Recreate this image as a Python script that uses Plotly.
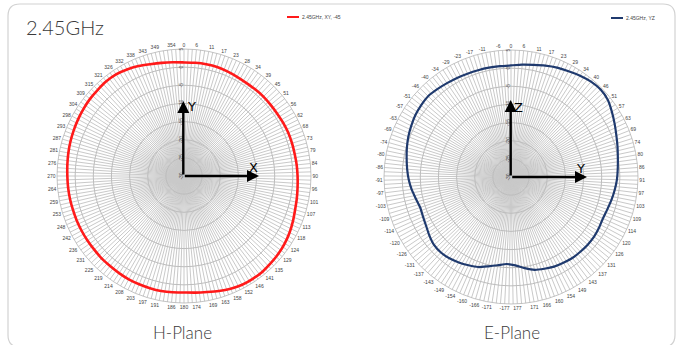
import plotly.graph_objects as go

# ---------------- data ----------------
H_LABELS = ["0","6","11","17","23","28","34","39","45","51","56","62","68","73","79","84",
            "90","96","101","107","113","118","124","129","135","141","146","152","158","163","169","174",
            "180","186","191","197","203","208","214","219","225","231","236","242","248","253","259","264",
            "270","276","281","287","293","298","304","309","315","321","326","332","338","343","349","354"]
H_VALUES = [1.3, 1.35, 1.4, 1.4, 1.2, 1.0, 0.85, 0.9, 0.95, 0.9, 0.9, 1.0, 1.1, 1.1, 1.1, 1.2,
            1.3, 1.45, 1.7, 2.0, 2.5, 3.0, 3.4, 3.7, 3.9, 4.1, 4.1, 4.0, 3.6, 3.1, 2.6, 2.3,
            2.1, 2.2, 2.3, 2.3, 2.3, 2.3, 2.2, 2.1, 2.1, 2.0, 2.0, 2.0, 2.0, 2.0, 2.05, 2.1,
            2.15, 2.3, 2.5, 2.7, 2.9, 3.1, 3.3, 3.5, 3.6, 3.75, 3.7, 3.3, 2.8, 2.2, 1.8, 1.5]

E_LABELS = ["0","6","11","17","23","29","34","40","46","51","57","63","69","74","80","86",
            "91","97","103","109","114","120","126","131","137","143","149","154","160","166","171","177",
            "-177","-171","-166","-160","-154","-149","-143","-137","-131","-126","-120","-114","-109","-103","-97",
            "-91","-86","-80","-74","-69","-63","-57","-51","-46","-40","-34","-29","-23","-17","-11","-6"]
E_VALUES = [0.75, 1.1, 1.5, 2.1, 2.7, 3.2, 3.8, 4.3, 4.5, 4.1, 3.1, 2.1, 1.2, 0.5, -0.1, -0.5,
            -0.8, -1.2, -1.6, -2.0, -2.2, -2.0, -1.8, -1.8, -1.9, -2.0, -2.3, -2.6, -3.1, -3.6, -4.6, -5.6,
            -6.0, -5.4, -4.6, -3.6, -3.0, -2.4, -1.9, -1.6, -1.7, -2.3, -3.0, -3.4, -3.6, -3.1, -2.4,
            -1.8, -1.3, -0.8, -0.2, 0.4, 0.9, 1.4, 1.7, 1.9, 1.6, 1.3, 1.1, 0.9, 0.8, 0.75, 0.7]

R_TICKS = [-30, -25, -20, -15, -10, -5, 0, 5]
H_NAME = "2.45GHz, XY, -45"
E_NAME = "2.45GHz, YZ"

W, H = 677, 345
SUB = 3  # spokes per labelled category


def px(x):
    return x / W


def py(y):
    return 1 - y / H


def cat_theta(n):
    return [i * 360.0 / n for i in range(n)]


def spokes(labels):
    n = len(labels)
    vals, txt = [], []
    for j in range(n * SUB):
        vals.append(j * 360.0 / (n * SUB))
        txt.append(labels[j // SUB] if j % SUB == 0 else "")
    return vals, txt


fig = go.Figure()

h_th = cat_theta(len(H_VALUES))
e_th = cat_theta(len(E_VALUES))
fig.add_trace(go.Scatterpolar(r=H_VALUES + H_VALUES[:1], theta=h_th + h_th[:1], mode="lines",
                              line=dict(color="#ff1a1a", width=2.6, shape="spline", smoothing=0.6),
                              name=H_NAME, subplot="polar", showlegend=False))
fig.add_trace(go.Scatterpolar(r=E_VALUES + E_VALUES[:1], theta=e_th + e_th[:1], mode="lines",
                              line=dict(color="#1f3a6e", width=2.2, shape="spline", smoothing=0.6),
                              name=E_NAME, subplot="polar2", showlegend=False))

GRID = "#c9c9c9"
TICKF = dict(family="Liberation Sans", size=5, color="#444")


def polar_layout(labels, cx, cy, rad):
    tv, tt = spokes(labels)
    return dict(
        domain=dict(x=[px(cx - rad), px(cx + rad)], y=[py(cy + rad), py(cy - rad)]),
        bgcolor="white",
        angularaxis=dict(rotation=90, direction="clockwise", tickmode="array", tickvals=tv, ticktext=tt,
                         ticks="", showline=True, linecolor="#b5b5b5", linewidth=0.8,
                         gridcolor=GRID, gridwidth=0.6, tickfont=TICKF, thetaunit="degrees"),
        radialaxis=dict(range=[-30, 5], tickmode="array", tickvals=R_TICKS,
                        ticktext=[str(v) for v in R_TICKS], angle=90, tickangle=0,
                        side="counterclockwise", ticks="", showline=False,
                        gridcolor="#bdbdbd", gridwidth=0.7, tickfont=TICKF),
    )


fig.update_layout(
    width=W, height=H, margin=dict(l=0, r=0, t=0, b=0),
    paper_bgcolor="white", plot_bgcolor="white",
    polar=polar_layout(H_LABELS, 184, 176, 127),
    polar2=polar_layout(E_LABELS, 511, 177, 127),
    showlegend=False,
)

# card border (rounded)
rx, ry = 12 / W, 12 / H
x0, x1, y0, y1 = px(8), px(675), py(347), py(4)
path = (f"M {x0+rx},{y1} L {x1-rx},{y1} Q {x1},{y1} {x1},{y1-ry} L {x1},{y0+ry} Q {x1},{y0} {x1-rx},{y0} "
        f"L {x0+rx},{y0} Q {x0},{y0} {x0},{y0+ry} L {x0},{y1-ry} Q {x0},{y1} {x0+rx},{y1} Z")
shapes = [dict(type="path", path=path, xref="paper", yref="paper", line=dict(color="#d2d2d2", width=1.2))]

# legend line samples
shapes.append(dict(type="line", xref="paper", yref="paper", x0=px(287), x1=px(299), y0=py(17), y1=py(17),
                   line=dict(color="#ff1a1a", width=2)))
shapes.append(dict(type="line", xref="paper", yref="paper", x0=px(611), x1=px(623), y0=py(18), y1=py(18),
                   line=dict(color="#1f3a6e", width=2)))
fig.update_layout(shapes=shapes)

ann = []
ann.append(dict(text="2.45GHz", x=px(24), y=py(27), xref="paper", yref="paper", xanchor="left", yanchor="middle",
                showarrow=False, font=dict(family="Lato", size=20, color="#3a3a3a", weight=300)))
ann.append(dict(text=H_NAME, x=px(300), y=py(17), xref="paper", yref="paper", xanchor="left", yanchor="middle",
                showarrow=False, font=dict(family="Liberation Sans", size=5, color="#444")))
ann.append(dict(text=E_NAME, x=px(624), y=py(18), xref="paper", yref="paper", xanchor="left", yanchor="middle",
                showarrow=False, font=dict(family="Liberation Sans", size=5, color="#444")))
ann.append(dict(text="H-Plane", x=px(183), y=py(332), xref="paper", yref="paper", xanchor="center", yanchor="middle",
                showarrow=False, font=dict(family="Lato", size=17, color="#3a3a3a", weight=300)))
ann.append(dict(text="E-Plane", x=px(512), y=py(332), xref="paper", yref="paper", xanchor="center", yanchor="middle",
                showarrow=False, font=dict(family="Lato", size=17, color="#3a3a3a", weight=300)))


def arrow(cx, cy, tx, ty):
    return dict(x=px(tx), y=py(ty), xref="paper", yref="paper", ax=cx - tx, ay=cy - ty, axref="pixel", ayref="pixel",
                showarrow=True, arrowhead=2, arrowsize=1.0, arrowwidth=2.4, arrowcolor="black", text="")


ann += [arrow(183.3, 176, 183.3, 101), arrow(183.3, 176, 259, 176),
        arrow(510.7, 177, 510.7, 100), arrow(510.7, 177, 587, 177)]

for t, x, y in [("Y", 191, 106), ("X", 253, 167), ("Z", 518, 108), ("Y", 580, 168)]:
    ann.append(dict(text=t, x=px(x), y=py(y), xref="paper", yref="paper", showarrow=False,
                    font=dict(family="DejaVu Sans", size=13, color="black"), xanchor="center", yanchor="middle"))

fig.update_layout(annotations=ann)
fig.write_html("out.html", config={"displayModeBar": False},
               post_script="document.body.style.margin='0px';document.body.style.overflow='hidden';")
